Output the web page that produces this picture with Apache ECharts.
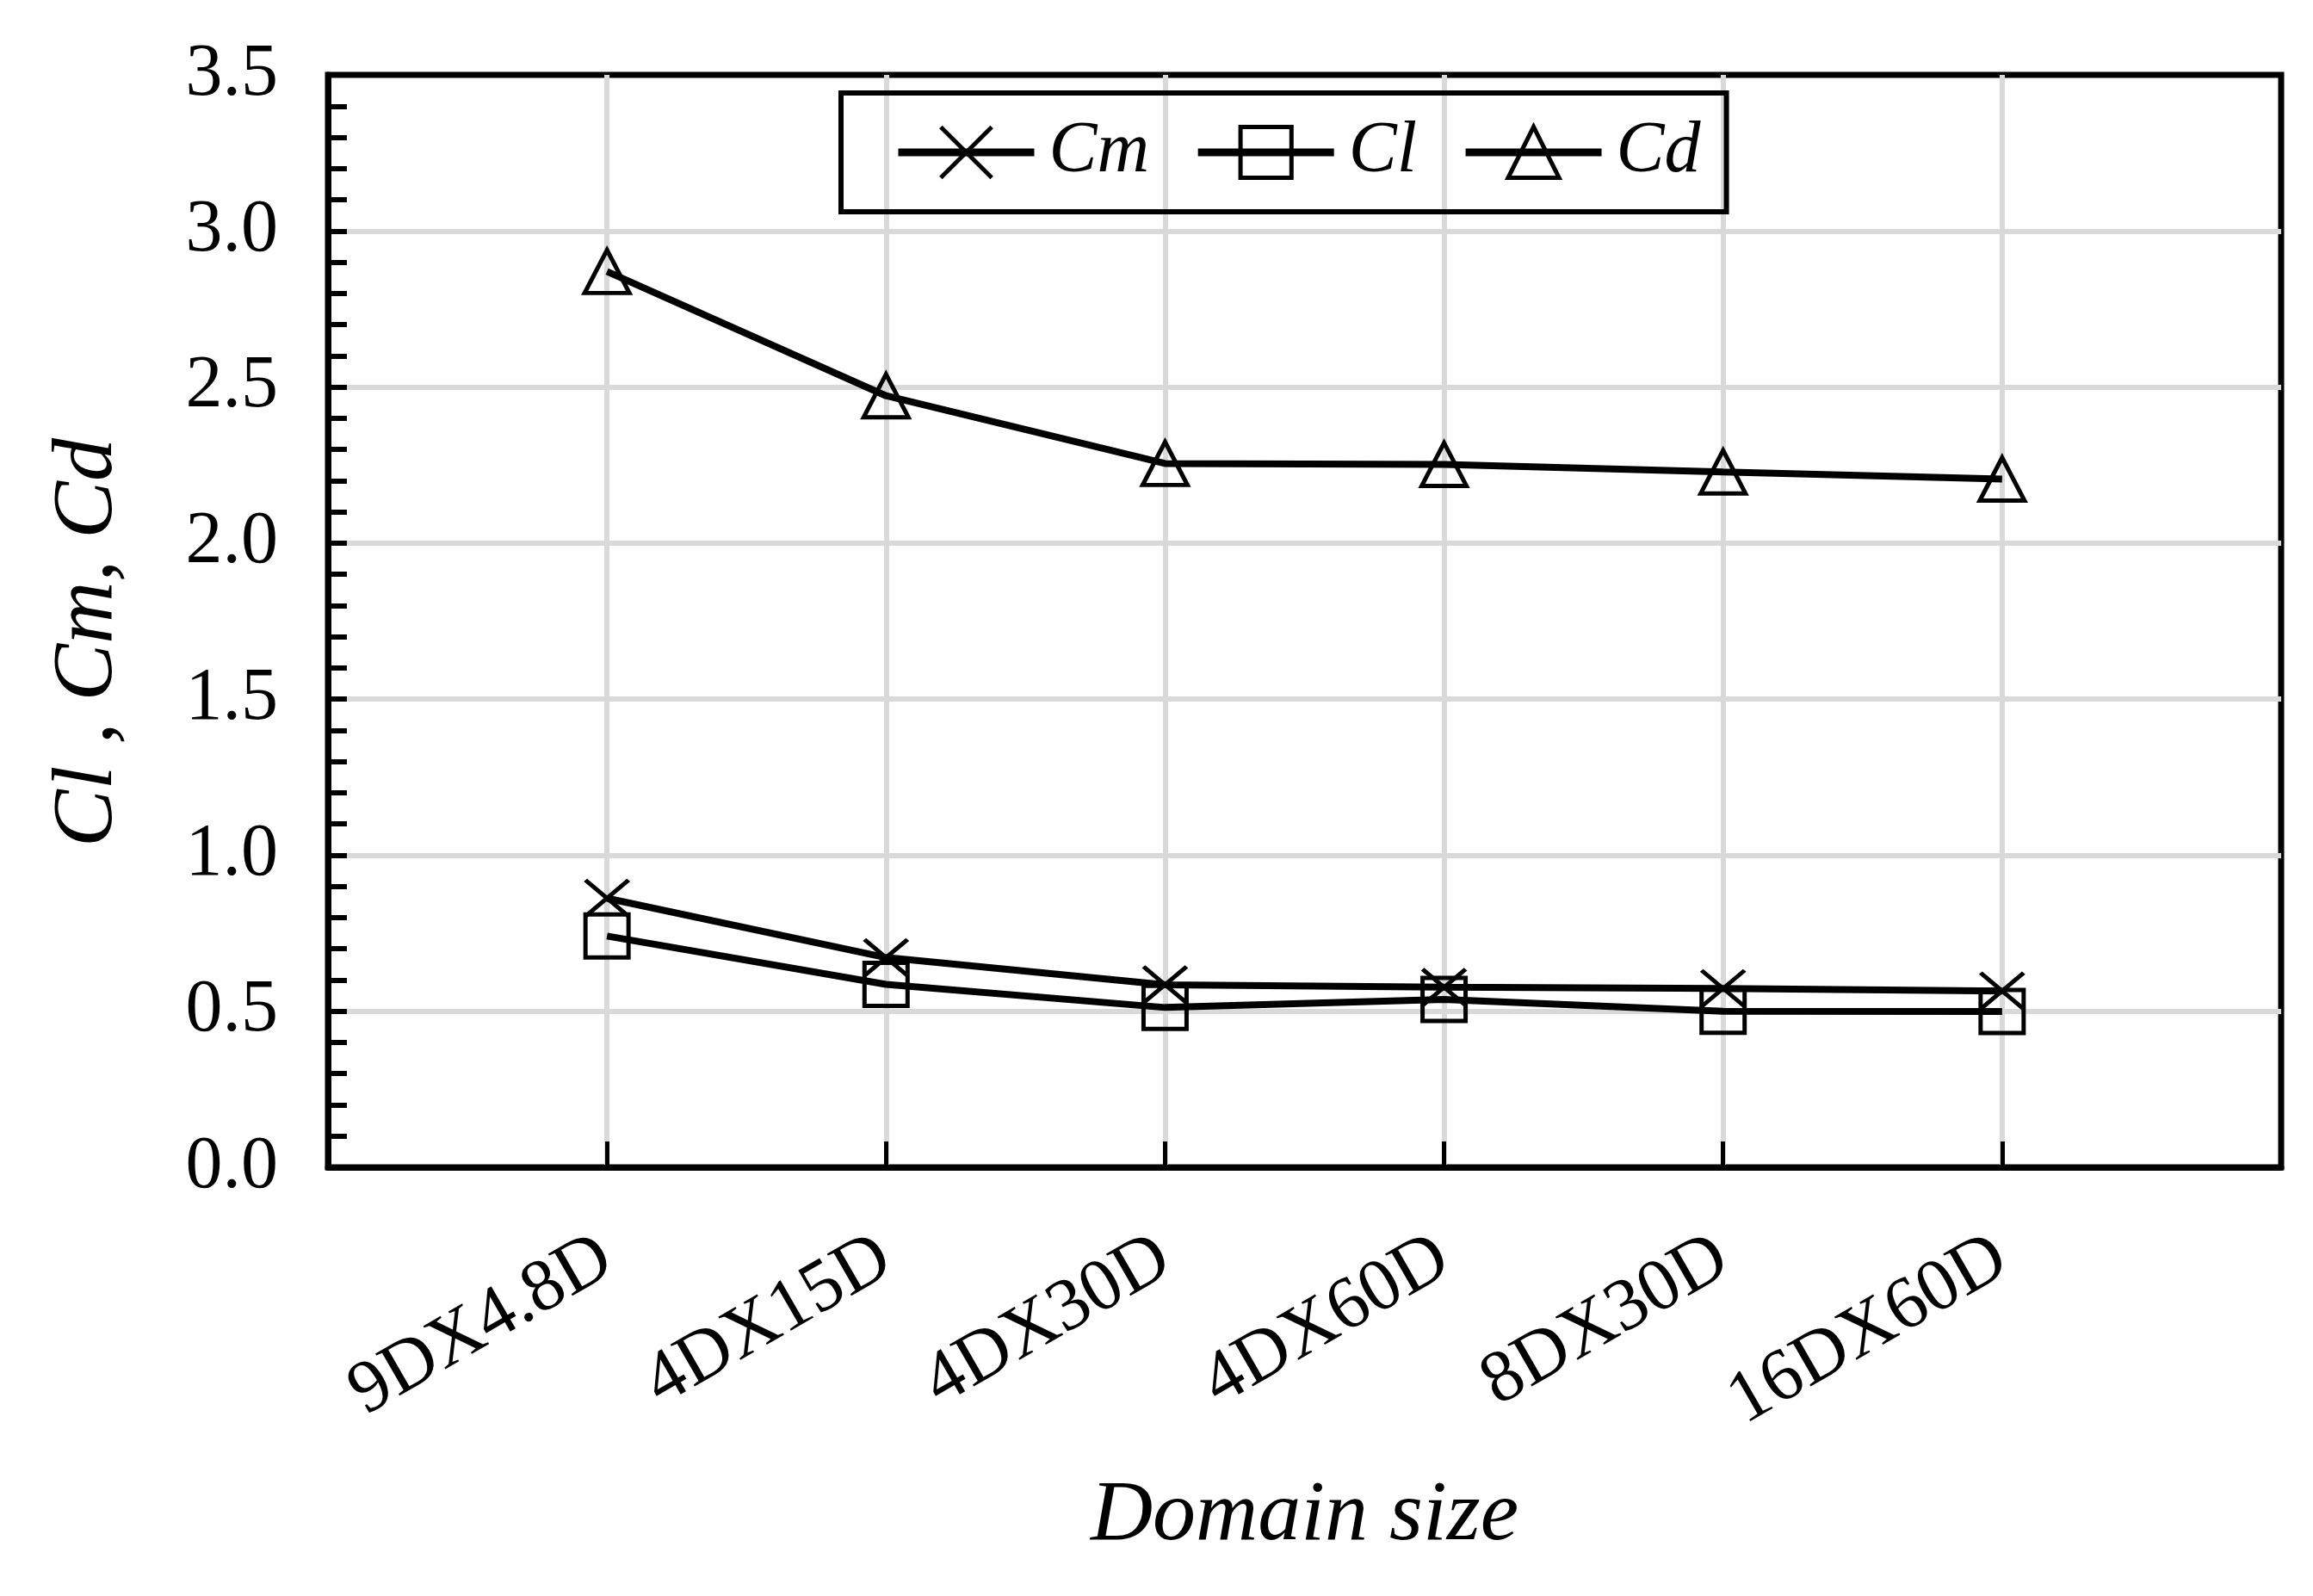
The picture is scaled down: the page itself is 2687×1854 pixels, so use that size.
<!DOCTYPE html>
<html>
<head>
<meta charset="utf-8">
<script src="https://cdn.jsdelivr.net/npm/echarts@6/dist/echarts.min.js"></script>
<style>
html,body{margin:0;padding:0;background:#fff;}
#chart{width:2687px;height:1854px;}
</style>
</head>
<body>
<div id="chart"></div>
<script>
// ---- data ----
const categories = ['9DX4.8D', '4DX15D', '4DX30D', '4DX60D', '8DX30D', '16DX60D'];
const cmValues = [0.862, 0.672, 0.585, 0.577, 0.573, 0.565];
const clValues = [0.741, 0.586, 0.512, 0.538, 0.500, 0.499];
const cdValues = [2.870, 2.472, 2.255, 2.252, 2.228, 2.205];
const seriesNames = ['Cm', 'Cl', 'Cd'];
const yAxisName = 'Cl , Cm, Cd';
const xAxisName = 'Domain size';

const FONT = '"Liberation Serif", "Times New Roman", serif';
const toPairs = vals => vals.map((v, i) => [i + 1, v]);

const markerStyle = { color: 'rgba(0,0,0,0)', borderColor: '#000', borderWidth: 5 };
const lineStyle = { color: '#000', width: 8 };

function makeSeries(name, vals, symbol, size) {
  return {
    name: name,
    type: 'line',
    data: toPairs(vals),
    symbol: symbol,
    symbolSize: size,
    symbolKeepAspect: false,
    showAllSymbol: true,
    lineStyle: lineStyle,
    itemStyle: markerStyle,
    emphasis: { disabled: true },
    z: 3
  };
}

const chart = echarts.init(document.getElementById('chart'), null, { renderer: 'canvas' });
chart.setOption({
  animation: false,
  backgroundColor: '#fff',
  grid: {
    left: 381, right: 37, top: 87, bottom: 498,
    show: true, borderColor: '#000', borderWidth: 7, backgroundColor: 'rgba(0,0,0,0)'
  },
  legend: {
    data: seriesNames,
    left: 977, top: 108,
    orient: 'horizontal',
    itemWidth: 158, itemHeight: 74, itemGap: 52,
    padding: [27, 30, 27, 62],
    borderColor: '#000', borderWidth: 6,
    lineStyle: { color: '#000', width: 9 },
    itemStyle: { color: 'rgba(0,0,0,0)', borderColor: '#000', borderWidth: 5 },
    textStyle: { fontFamily: FONT, fontStyle: 'italic', fontSize: 84, color: '#000', padding: [0, 0, 0, 12] }
  },
  xAxis: {
    type: 'value',
    min: 0, max: 7, interval: 1,
    name: xAxisName,
    nameLocation: 'middle',
    nameGap: 356,
    nameTextStyle: { fontFamily: FONT, fontStyle: 'italic', fontSize: 100, color: '#000' },
    axisLine: { show: true, lineStyle: { color: '#000', width: 7 } },
    axisTick: { show: true, inside: true, length: 30, lineStyle: { color: '#000', width: 5 } },
    splitLine: { show: true, showMinLine: false, showMaxLine: false, lineStyle: { color: '#d9d9d9', width: 6 } },
    axisLabel: {
      rotate: 30, margin: 100,
      fontFamily: FONT, fontSize: 86, color: '#000',
      formatter: v => (v >= 1 && v <= categories.length) ? categories[v - 1] : ''
    }
  },
  yAxis: {
    type: 'value',
    min: 0, max: 3.5, interval: 0.5,
    name: yAxisName,
    nameLocation: 'middle',
    nameGap: 228,
    nameTextStyle: { fontFamily: FONT, fontStyle: 'italic', fontSize: 100, color: '#000', padding: [0, 50, 0, 0] },
    axisLine: { show: true, lineStyle: { color: '#000', width: 7 } },
    axisTick: { show: true, inside: true, length: 22, lineStyle: { color: '#000', width: 6 } },
    minorTick: { show: true, splitNumber: 5, length: 22, lineStyle: { color: '#000', width: 6 } },
    splitLine: { show: true, showMinLine: false, showMaxLine: false, lineStyle: { color: '#d9d9d9', width: 6 } },
    axisLabel: {
      margin: 58,
      fontFamily: FONT, fontSize: 86, color: '#000',
      formatter: v => v.toFixed(1)
    }
  },
  series: [
    makeSeries(seriesNames[0], cmValues, 'path://M0,0L10,8M10,0L0,8', [50, 42]),
    makeSeries(seriesNames[1], clValues, 'rect', [50, 50]),
    makeSeries(seriesNames[2], cdValues, 'triangle', [52, 50])
  ]
});
</script>
</body>
</html>
